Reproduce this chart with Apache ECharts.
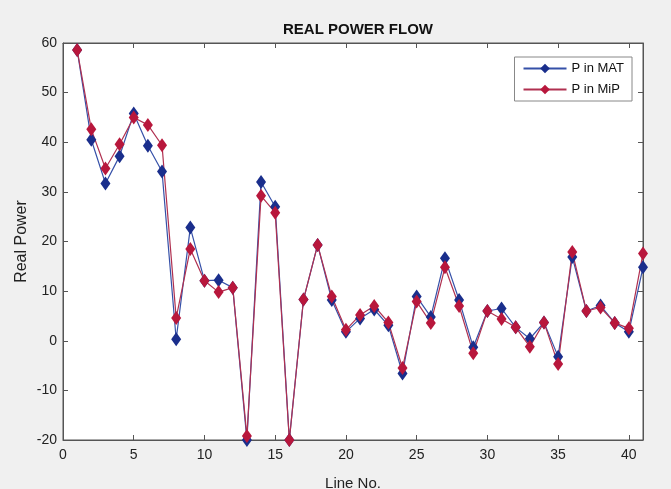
<!DOCTYPE html>
<html>
<head>
<meta charset="utf-8">
<script src="https://cdn.jsdelivr.net/npm/echarts@6/dist/echarts.min.js"></script>
<style>
  html, body { margin: 0; padding: 0; background: #f0f0f0; }
  #chart { width: 671px; height: 489px; }
</style>
</head>
<body>
<div id="chart"></div>
<script>
// line numbers 1..41
const lineNo = [1, 2, 3, 4, 5, 6, 7, 8, 9, 10, 11, 12, 13, 14, 15, 16, 17, 18, 19, 20,
  21, 22, 23, 24, 25, 26, 27, 28, 29, 30, 31, 32, 33, 34, 35, 36, 37, 38, 39, 40, 41];

// P in MAT (blue)
const pMat = [58.6, 40.5, 31.7, 37.2, 45.8, 39.3, 34.1, 0.3, 22.8, 12.1, 12.2, 10.7, -20, 32.0, 27.0, -20,
  8.3, 19.3, 8.2, 1.8, 4.5, 6.3, 3.1, -6.6, 8.9, 4.8, 16.6, 8.2, -1.3, 6.0, 6.5, 2.7, 0.4, 3.7,
  -3.2, 16.9, 6.0, 7.1, 3.6, 1.8, 14.8];

// P in MiP (red)
const pMip = [58.6, 42.6, 34.7, 39.6, 45.0, 43.5, 39.4, 4.6, 18.5, 12.1, 9.8, 10.7, -19.2, 29.2, 25.8, -20,
  8.3, 19.3, 8.9, 2.2, 5.2, 7.0, 3.7, -5.5, 7.9, 3.6, 14.8, 7.0, -2.5, 6.0, 4.4, 2.7, -1.2, 3.7,
  -4.7, 17.9, 6.0, 6.7, 3.6, 2.5, 17.6];

const toPairs = arr => arr.map((v, i) => [lineNo[i], v]);

const axisGray = '#555';
const font = 'Liberation Sans, Arial, sans-serif';

const chart = echarts.init(document.getElementById('chart'));
chart.setOption({
  backgroundColor: '#f0f0f0',
  animation: false,
  title: {
    text: 'REAL POWER FLOW',
    left: 353,
    top: 17,
    textAlign: 'center',
    textStyle: { fontFamily: font, fontSize: 15, fontWeight: 'bold', color: '#111' }
  },
  legend: {
    right: 39,
    top: 57,
    orient: 'vertical',
    backgroundColor: '#fff',
    borderColor: '#888',
    borderWidth: 1,
    borderRadius: 0,
    padding: [5, 8, 5, 8],
    itemGap: 8,
    itemWidth: 43,
    itemHeight: 12,
    textStyle: { fontFamily: font, fontSize: 13, color: '#111' },
    data: ['P in MAT', 'P in MiP']
  },
  grid: {
    left: 63, right: 28, top: 43, bottom: 49,
    outerBoundsMode: 'none',
    containLabel: false,
    show: true,
    backgroundColor: '#fff',
    borderColor: axisGray,
    borderWidth: 1
  },
  xAxis: [{
    type: 'value',
    min: 0, max: 41, interval: 5,
    name: 'Line No.',
    nameLocation: 'middle',
    nameGap: 36,
    nameMoveOverlap: false,
    nameTextStyle: { fontFamily: font, fontSize: 15, color: '#222' },
    axisLine: { onZero: false, lineStyle: { color: axisGray } },
    axisTick: { inside: true, length: 5, lineStyle: { color: axisGray } },
    axisLabel: { fontFamily: font, fontSize: 14, color: '#222', margin: 8, showMaxLabel: false },
    splitLine: { show: false }
  }, {
    type: 'value',
    position: 'top',
    min: 0, max: 41, interval: 5,
    axisLine: { onZero: false, lineStyle: { color: axisGray } },
    axisTick: { inside: true, length: 5, lineStyle: { color: axisGray } },
    axisLabel: { show: false },
    splitLine: { show: false }
  }],
  yAxis: [{
    type: 'value',
    min: -20, max: 60, interval: 10,
    name: 'Real Power',
    nameLocation: 'middle',
    nameGap: 33,
    nameMoveOverlap: false,
    nameTextStyle: { fontFamily: font, fontSize: 16, color: '#222' },
    axisLine: { show: true, onZero: false, lineStyle: { color: axisGray } },
    axisTick: { show: true, inside: true, length: 5, lineStyle: { color: axisGray } },
    axisLabel: { fontFamily: font, fontSize: 14, color: '#222', margin: 6 },
    splitLine: { show: false }
  }, {
    type: 'value',
    position: 'right',
    min: -20, max: 60, interval: 10,
    axisLine: { show: true, onZero: false, lineStyle: { color: axisGray } },
    axisTick: { show: true, inside: true, length: 5, lineStyle: { color: axisGray } },
    axisLabel: { show: false },
    splitLine: { show: false }
  }],
  series: [{
    name: 'P in MAT',
    type: 'line',
    data: toPairs(pMat),
    symbol: 'diamond',
    symbolSize: [10, 14],
    showAllSymbol: true,
    clip: false,
    itemStyle: { color: '#1a2e8c' },
    lineStyle: { color: '#3550a8', width: 1.2 }
  }, {
    name: 'P in MiP',
    type: 'line',
    data: toPairs(pMip),
    symbol: 'diamond',
    symbolSize: [10, 14],
    showAllSymbol: true,
    clip: false,
    itemStyle: { color: '#b8173c' },
    lineStyle: { color: '#b03050', width: 1.2 }
  }]
});
</script>
</body>
</html>
